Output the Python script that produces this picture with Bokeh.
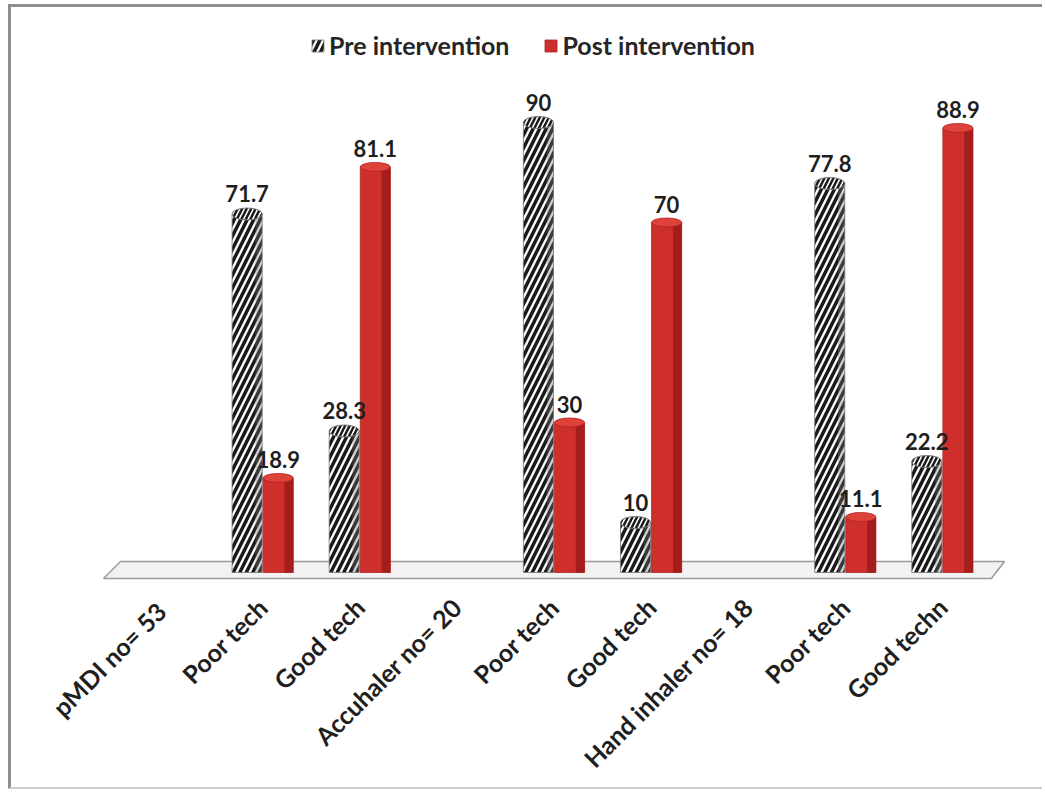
import math
from bokeh.plotting import figure
from bokeh.models import Range1d, FixedTicker, Legend, LegendItem, ColumnDataSource
from bokeh.core.properties import value
from bokeh.embed import file_html
from bokeh.resources import INLINE

categories = ["pMDI  no= 53", "Poor tech", "Good tech", "Accuhaler no= 20", "Poor tech",
              "Good tech", "Hand inhaler no= 18", "Poor tech", "Good techn"]
pre_values = [None, 71.7, 28.3, None, 90, 10, None, 77.8, 22.2]
post_values = [None, 18.9, 81.1, None, 30, 70, None, 11.1, 88.9]
series_names = ["Pre intervention", "Post intervention"]

FONT = "Lato"
OFF = 0.16
W = 0.31

def fmt(v):
    return ("%g" % v)

pre_x = [i - OFF for i, v in enumerate(pre_values) if v is not None]
pre_y = [v for v in pre_values if v is not None]
post_x = [i + OFF for i, v in enumerate(post_values) if v is not None]
post_y = [v for v in post_values if v is not None]

pre_src = ColumnDataSource(dict(x=pre_x, top=pre_y, label=[fmt(v) for v in pre_y],
                                xs=[x + W / 2 - 0.035 for x in pre_x]))
post_src = ColumnDataSource(dict(x=post_x, top=post_y, label=[fmt(v) for v in post_y],
                                 xs=[x + W / 2 - 0.045 for x in post_x]))

# outer border drawn by css: left 8px margin + 3px border, top 4px margin + 3px border
p = figure(width=1034, height=785, output_backend="svg", toolbar_location=None,
           x_range=Range1d(-0.67, 8.65), y_range=Range1d(-2, 110.4),
           min_border_left=89, min_border_right=40, min_border_top=13, min_border_bottom=210)
p.styles = {"margin-left": "8px", "margin-top": "4px",
            "border-left": "3px solid #8e8e8e", "border-top": "3px solid #8e8e8e",
            "border-bottom": "2px solid #cfcfcf"}
p.outline_line_color = None
p.grid.visible = False
p.yaxis.visible = False
p.background_fill_color = "white"
p.border_fill_color = "white"

# 3D floor
p.patch([-0.639, 8.505, 8.639, -0.464], [-1.2, -1.2, 2.2, 2.2],
        fill_color="#f2f2f2", line_color="#9a9a9a", line_width=1.5)

# pre bars (hatched cylinders)
pre_r = p.vbar(x="x", top="top", bottom=0, width=W, source=pre_src,
               fill_color="white", line_color="#777777", line_width=0.8,
               hatch_pattern="/", hatch_color="#1a1a1a", hatch_weight=3.5, hatch_scale=13)
p.vbar(x="xs", top="top", bottom=0, width=0.07, source=pre_src,
       fill_color="#777777", fill_alpha=0.35, line_color=None)
p.ellipse(x="x", y="top", width=W, height=12, height_units="screen", source=pre_src,
          fill_color="white", line_color="#777777", line_width=1,
          hatch_pattern="/", hatch_color="#1a1a1a", hatch_weight=2.5, hatch_scale=9)

# post bars (red)
post_r = p.vbar(x="x", top="top", bottom=0, width=W, source=post_src,
                fill_color="#cf2f2a", line_color="#ad2222", line_width=0.8)
p.vbar(x="xs", top="top", bottom=0, width=0.09, source=post_src,
       fill_color="#a31d1c", line_color=None)
p.ellipse(x="x", y="top", width=W, height=9, height_units="screen", source=post_src,
          fill_color="#df4239", line_color="#ad2222", line_width=0.8)

# value labels
p.text(x="x", y="top", text="label", source=pre_src, y_offset=-12,
       text_align="center", text_baseline="bottom", text_font=value(FONT),
       text_font_style="bold", text_font_size="22px", text_color="#1e1e1e")
p.text(x="x", y="top", text="label", source=post_src, y_offset=-10,
       text_align="center", text_baseline="bottom", text_font=value(FONT),
       text_font_style="bold", text_font_size="22px", text_color="#1e1e1e")

# x axis
ax = p.xaxis[0]
ax.ticker = FixedTicker(ticks=list(range(len(categories))))
ax.major_label_overrides = {i: c for i, c in enumerate(categories)}
ax.major_label_orientation = math.pi / 4
ax.axis_line_color = None
ax.major_tick_line_color = None
ax.minor_tick_line_color = None
ax.major_label_standoff = 14
ax.major_label_text_font = FONT
ax.major_label_text_font_style = "bold"
ax.major_label_text_font_size = "25px"
ax.major_label_text_color = "#1e1e1e"

legend = Legend(items=[LegendItem(label=series_names[0], renderers=[pre_r]),
                       LegendItem(label=series_names[1], renderers=[post_r])],
                orientation="horizontal", location=(210, 522),
                label_text_font=FONT, label_text_font_style="bold",
                label_text_font_size="25px", label_text_color="#262626",
                glyph_width=15, glyph_height=15, spacing=34, label_standoff=4,
                border_line_color=None, background_fill_alpha=0, margin=0, padding=4)
p.add_layout(legend)

open("out.html", "w").write(file_html(p, INLINE))
